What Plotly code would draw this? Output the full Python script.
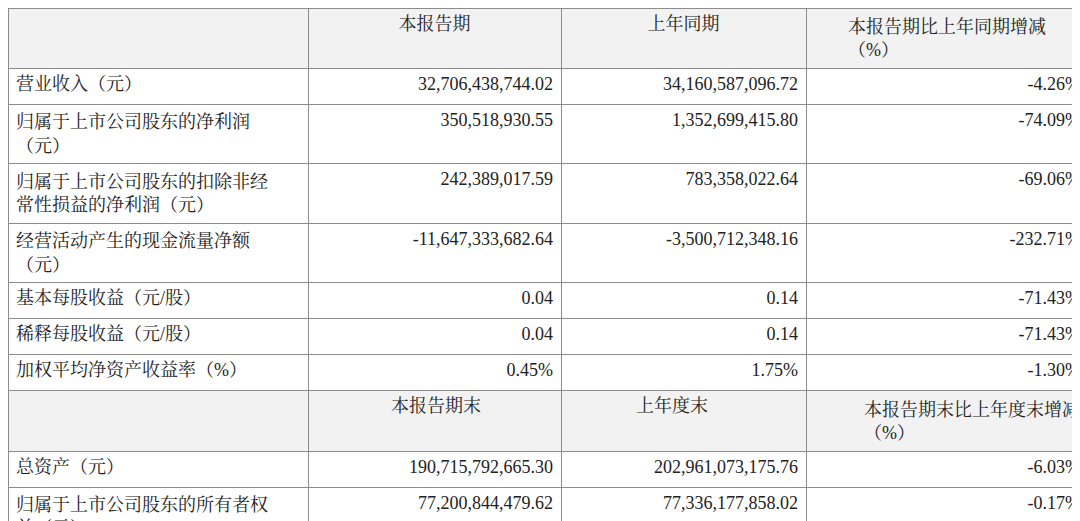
import plotly.graph_objects as go

header = ["", "本报告期", "上年同期", "本报告期比上年同期增减<br>（%）"]
items = ["营业收入（元）", "归属于上市公司股东的净利润<br>（元）", "归属于上市公司股东的扣除非经<br>常性损益的净利润（元）",
         "经营活动产生的现金流量净额<br>（元）", "基本每股收益（元/股）", "稀释每股收益（元/股）", "加权平均净资产收益率（%）",
         "", "总资产（元）", "归属于上市公司股东的所有者权<br>益（元）"]
current = ["32,706,438,744.02", "350,518,930.55", "242,389,017.59", "-11,647,333,682.64", "0.04", "0.04", "0.45%",
           "本报告期末" + "\u3000" * 4, "190,715,792,665.30", "77,200,844,479.62"]
previous = ["34,160,587,096.72", "1,352,699,415.80", "783,358,022.64", "-3,500,712,348.16", "0.14", "0.14", "1.75%",
            "上年度末" + "\u3000" * 5, "202,961,073,175.76", "77,336,177,858.02"]
change = ["-4.26%", "-74.09%", "-69.06%", "-232.71%", "-71.43%", "-71.43%", "-1.30%",
          "本报告期末比上年度末增减<br>（%）" + "\u3000" * 5, "-6.03%", "-0.17%"]

font = "Liberation Serif, Noto Serif CJK SC, Noto Sans CJK SC, serif"
fills = ["#f2f2f2" if i == 7 else "white" for i in range(len(items))]

fig = go.Figure(go.Table(
    columnwidth=[300, 253, 245, 282],
    header=dict(values=header, fill_color="#f2f2f2", line_color="#8c8c8c",
                align="center", height=55, font=dict(family=font, size=18, color="#222")),
    cells=dict(values=[items, current, previous, change], fill_color=[fills] * 4, line_color="#8c8c8c",
               align=["left", "right", "right", "right"], height=36,
               font=dict(family=font, size=18, color="#222")),
    domain=dict(x=[0, 1], y=[0, 1]),
))
fig.update_layout(width=1080, height=521, margin=dict(l=0, r=0, t=0, b=0), paper_bgcolor="white")
fig.write_html("out.html")
